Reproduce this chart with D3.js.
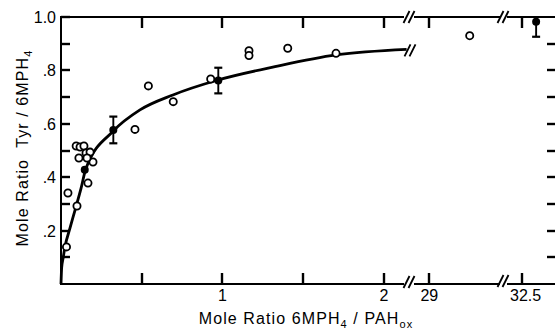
<!DOCTYPE html>
<html>
<head>
<meta charset="utf-8">
<title>Mole Ratio Tyr / 6MPH4</title>
<script src="https://cdn.jsdelivr.net/npm/d3@7"></script>
<style>
  body { margin: 0; background: #fff; }
  text { font-family: "Liberation Sans", Arial, sans-serif; fill: #000; }
</style>
</head>
<body>
<script>
// open circles (individual determinations)
var openX = [0.034, 0.043, 0.099, 0.167, 0.094, 0.118, 0.142, 0.111, 0.155, 0.180, 0.198, 0.161,
             0.458, 0.541, 0.695, 0.927, 1.164, 1.164, 1.404, 1.703, 29.25];
var openY = [0.139, 0.341, 0.292, 0.378, 0.517, 0.513, 0.517, 0.472, 0.491, 0.494, 0.457, 0.472,
             0.579, 0.742, 0.683, 0.768, 0.874, 0.856, 0.883, 0.864, 0.930];
// filled circles (means) with error
var meanX = [0.147, 0.324, 0.974, 32.59];
var meanY = [0.428, 0.577, 0.762, 0.982];
var meanErr = [0, 0.05, 0.048, 0.056];
// fitted curve
var curveX = [0, 0.004, 0.014, 0.025, 0.056, 0.087, 0.124, 0.153, 0.324, 0.489, 0.693, 0.972, 1.325, 1.703, 2.14];
var curveY = [0, 0.06, 0.10, 0.14, 0.21, 0.277, 0.358, 0.43, 0.573, 0.652, 0.708, 0.764, 0.814, 0.858, 0.879];
var xTicks = [0.5, 1, 1.5, 2, 29, 32.5];
var xTickLabels = ["", "1", "", "2", "29", "32.5"];
var yTicks = [0.1, 0.2, 0.3, 0.4, 0.5, 0.6, 0.7, 0.8, 0.9, 1.0];
var yTickLabels = ["", ".2", "", ".4", "", ".6", "", ".8", "", "1.0"];

var W = 555, H = 330;
var padL = 61, padT = 17, baseY = 284, edgeR = 556;

var svg = d3.select("body").append("svg").attr("width", W).attr("height", H);

// broken x axis: three pieces
var xA = d3.scaleLinear().domain([0, 2.14]).range([padL, 406.6]);
var xB = d3.scaleLinear().domain([28.9, 29.45]).range([413.2, 502]);
var xC = d3.scaleLinear().domain([32.4, 32.75]).range([505.4, 562]);
function xPos(v) {
  if (v < 10) return xA(v);
  if (v < 31) return xB(v);
  return xC(v);
}
var y = d3.scaleLinear().domain([0, 1]).range([baseY, padT]);

// tick labels
svg.selectAll("text.xl").data(xTicks).enter().append("text")
  .attr("class", "xl")
  .attr("x", function(d) { return xPos(d) + (d === 32.5 ? 4 : 0); })
  .attr("y", 301)
  .attr("text-anchor", "middle").attr("font-size", 16)
  .text(function(d, i) { return xTickLabels[i]; });
svg.selectAll("text.yl").data(yTicks).enter().append("text")
  .attr("class", "yl")
  .attr("x", 56)
  .attr("y", function(d) { return y(d) + 6; })
  .attr("text-anchor", "end").attr("font-size", 16)
  .text(function(d, i) { return yTickLabels[i]; });

// frame pieces with gaps at the breaks
var pieces = [[padL, 404], [414, 500], [507, edgeR]];
[padT, baseY].forEach(function(yy) {
  pieces.forEach(function(p) {
    svg.append("line").attr("x1", p[0]).attr("x2", p[1]).attr("y1", yy).attr("y2", yy)
      .attr("stroke", "#000").attr("stroke-width", 2);
  });
});
svg.append("line").attr("x1", padL).attr("x2", padL).attr("y1", padT - 1).attr("y2", baseY + 1)
  .attr("stroke", "#000").attr("stroke-width", 2);

// break marks "//"
function breakMark(cx, cy) {
  [-2.5, 2.5].forEach(function(o) {
    svg.append("line")
      .attr("x1", cx + o - 3).attr("y1", cy + 6)
      .attr("x2", cx + o + 3).attr("y2", cy - 6)
      .attr("stroke", "#000").attr("stroke-width", 1.8);
  });
}
breakMark(409, padT); breakMark(409, baseY - 2);
breakMark(503, padT); breakMark(503, baseY - 3);

// curve
var curveLine = d3.line()
  .x(function(d) { return xA(d[0]); })
  .y(function(d) { return y(d[1]); })
  .curve(d3.curveMonotoneX);
svg.append("path")
  .attr("d", curveLine(d3.zip(curveX, curveY)))
  .attr("fill", "none").attr("stroke", "#000").attr("stroke-width", 2.8);
breakMark(410, y(curveY[curveY.length - 1]) + 1);

// open circles
svg.selectAll("circle.open").data(d3.zip(openX, openY)).enter().append("circle")
  .attr("class", "open")
  .attr("cx", function(d) { return xPos(d[0]); })
  .attr("cy", function(d) { return y(d[1]); })
  .attr("r", 3.6)
  .attr("fill", "#fff").attr("stroke", "#000").attr("stroke-width", 1.8);

// error bars and means
var means = d3.range(meanX.length).map(function(i) {
  return {x: meanX[i], y: meanY[i], e: meanErr[i]};
});
var eb = svg.selectAll("g.err").data(means.filter(function(d) { return d.e > 0; })).enter().append("g");
eb.append("line")
  .attr("x1", function(d) { return xPos(d.x); }).attr("x2", function(d) { return xPos(d.x); })
  .attr("y1", function(d) { return y(Math.min(1, d.y + d.e)); })
  .attr("y2", function(d) { return y(d.y - d.e); })
  .attr("stroke", "#000").attr("stroke-width", 1.9);
eb.filter(function(d) { return d.y + d.e < 1; }).append("line")
  .attr("x1", function(d) { return xPos(d.x) - 4; }).attr("x2", function(d) { return xPos(d.x) + 4; })
  .attr("y1", function(d) { return y(d.y + d.e); }).attr("y2", function(d) { return y(d.y + d.e); })
  .attr("stroke", "#000").attr("stroke-width", 2.2);
eb.append("line")
  .attr("x1", function(d) { return xPos(d.x) - 4; }).attr("x2", function(d) { return xPos(d.x) + 4; })
  .attr("y1", function(d) { return y(d.y - d.e); }).attr("y2", function(d) { return y(d.y - d.e); })
  .attr("stroke", "#000").attr("stroke-width", 2.2);
svg.selectAll("circle.mean").data(means).enter().append("circle")
  .attr("class", "mean")
  .attr("cx", function(d) { return xPos(d.x); })
  .attr("cy", function(d) { return y(d.y); })
  .attr("r", 4).attr("fill", "#000");

// inward ticks on all four sides, as filled rects so they stay crisp
var tickLen = 11, tickW = 2.4;
svg.selectAll("rect.xtb").data(xTicks).enter().append("rect")
  .attr("class", "xtb")
  .attr("x", function(d) { return Math.round(xPos(d)) - tickW / 2; })
  .attr("y", baseY - tickLen).attr("width", tickW).attr("height", tickLen)
  .attr("fill", "#000");
svg.selectAll("rect.xtt").data(xTicks).enter().append("rect")
  .attr("class", "xtt")
  .attr("x", function(d) { return Math.round(xPos(d)) - tickW / 2; })
  .attr("y", padT).attr("width", tickW).attr("height", tickLen)
  .attr("fill", "#000");
svg.selectAll("rect.ytl").data(yTicks).enter().append("rect")
  .attr("class", "ytl")
  .attr("x", padL).attr("y", function(d) { return Math.round(y(d)) - tickW / 2; })
  .attr("width", 9).attr("height", tickW)
  .attr("fill", "#000");
svg.selectAll("rect.ytr").data(yTicks.slice(0, 9)).enter().append("rect")
  .attr("class", "ytr")
  .attr("x", edgeR - 9).attr("y", function(d) { return Math.round(y(d)) - tickW / 2; })
  .attr("width", 9).attr("height", tickW)
  .attr("fill", "#000");

// axis titles
var yt = svg.append("text")
  .attr("transform", "translate(28,148) rotate(-90)")
  .attr("text-anchor", "middle")
  .attr("font-size", 16).attr("letter-spacing", 1.1);
yt.append("tspan").text("Mole Ratio\u00a0\u00a0Tyr / 6MPH");
yt.append("tspan").attr("font-size", 11).attr("dy", 4).text("4");

var xt = svg.append("text")
  .attr("x", 306).attr("y", 324)
  .attr("text-anchor", "middle")
  .attr("font-size", 16).attr("letter-spacing", 1.1);
xt.append("tspan").text("Mole Ratio 6MPH");
xt.append("tspan").attr("font-size", 11).attr("dy", 4).text("4");
xt.append("tspan").attr("dy", -4).text(" / PAH");
xt.append("tspan").attr("font-size", 11).attr("dy", 4).text("ox");
</script>
</body>
</html>
